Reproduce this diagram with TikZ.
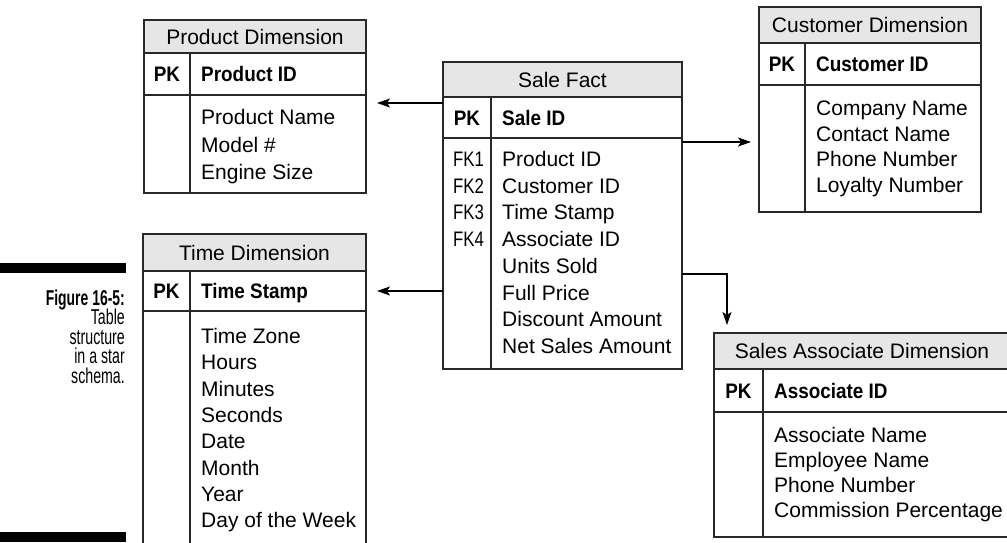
\documentclass[tikz,border=0pt]{standalone}
\usepackage{graphicx}
\usepackage{fontspec}
\setmainfont{Liberation Sans}[BoldFeatures={FakeStretch=0.9}]
\newfontfamily\narrowfont{Liberation Sans}[FakeStretch=0.8]
\usetikzlibrary{arrows.meta}
\definecolor{hdrgray}{RGB}{230,230,230}
\definecolor{inkline}{RGB}{40,40,40}

\tikzset{
  tframe/.style={draw=inkline, line width=1.3pt, inner sep=0pt, outer sep=0pt},
  hdrbox/.style={tframe, fill=hdrgray, font=\fontsize{21}{25}\selectfont},
  rowbox/.style={tframe},
  rule/.style={draw=inkline, line width=1.3pt},
  keytxt/.style={font=\fontsize{21}{25}\selectfont\bfseries, inner sep=0pt, anchor=base},
  fieldtxt/.style={font=\fontsize{21}{25}\selectfont, inner sep=0pt, anchor=base west},
  fktxt/.style={font=\narrowfont\fontsize{21}{25}\selectfont, inner sep=0pt, anchor=base west},
  link/.style={draw=black, line width=1.3pt, -{Stealth[length=13pt,width=9pt,inset=3pt]}},
  captxt/.style={font=\fontsize{21.5}{21}\selectfont, inner sep=0pt, anchor=base east},
  capbar/.style={fill=black},
}
% condensed caption lettering
\newcommand\capline[1]{\scalebox{0.66}[1]{#1}}
\newcommand\capheading[1]{\scalebox{0.72}[1]{\bfseries #1}}

% #1 name, #2 top-left corner, #3 width, #4 title height, #5 key row height,
% #6 body height, #7 key column width, #8 title
\newcommand\erdtable[8]{%
  \node[hdrbox, minimum width=#3pt, minimum height=#4pt, anchor=north west] (#1-h) at #2 {#8};
  \node[rowbox, minimum width=#3pt, minimum height=#5pt, anchor=north west] (#1-k) at (#1-h.south west) {};
  \node[rowbox, minimum width=#3pt, minimum height=#6pt, anchor=north west] (#1-b) at (#1-k.south west) {};
  \draw[rule] ([xshift=#7pt]#1-k.north west) -- ([xshift=#7pt]#1-b.south west);
}
% #1 name, #2 key column width, #3 key field
\newcommand\erdkey[3]{%
  \node[keytxt] (#1-pk) at ([xshift=#2pt/2, yshift=-7.5pt]#1-k.west) {PK};
  \node[keytxt, anchor=base west] (#1-kf) at ([xshift=#2pt+11pt, yshift=-7.5pt]#1-k.west) {#3};
}
% #1 name, #2 key column width, #3 first baseline, #4 line step, #5 fields
\newcommand\erdfields[5]{%
  \foreach \f [count=\i] in {#5}
    \node[fieldtxt] (#1-f\i) at ([xshift=#2pt+11pt, yshift={-#3pt-(\i-1)*#4pt}]#1-b.north west) {\f};
}

\begin{document}
\begin{tikzpicture}[x=1pt, y=-1pt]
\useasboundingbox (0,0) rectangle (1007,542);
\clip (0,0) rectangle (1007,542);

% dimension and fact tables
\erdtable{prod}{(144,20)}{222}{33}{42}{98}{46}{Product Dimension}
\erdkey{prod}{46}{Product ID}
\erdfields{prod}{46}{29.5}{27.5}{Product Name, Model \#, Engine Size}

\erdtable{sale}{(443,62)}{239}{35}{41}{231}{48}{Sale Fact}
\erdkey{sale}{48}{Sale ID}
\erdfields{sale}{48}{28.5}{26.7}{Product ID, Customer ID, Time Stamp, Associate ID, Units Sold, Full Price, Discount Amount, Net Sales Amount}
\foreach \k [count=\i] in {FK1, FK2, FK3, FK4}
  \node[fktxt] (sale-fk\i) at ([xshift=10pt, yshift={-28.5pt-(\i-1)*26.7pt}]sale-b.north west) {\k};

\erdtable{cust}{(759,7)}{222}{36}{42}{127}{46}{Customer Dimension}
\erdkey{cust}{46}{Customer ID}
\erdfields{cust}{46}{30.5}{25.7}{Company Name, Contact Name, Phone Number, Loyalty Number}

\erdtable{time}{(143,234)}{223}{37}{40}{235}{47}{Time Dimension}
\erdkey{time}{47}{Time Stamp}
\erdfields{time}{47}{32.5}{26.3}{Time Zone, Hours, Minutes, Seconds, Date, Month, Year, Day of the Week}

\erdtable{assoc}{(714,333)}{296}{36}{43}{125}{49}{Sales Associate Dimension}
\erdkey{assoc}{49}{Associate ID}
\erdfields{assoc}{49}{30.5}{25}{Associate Name, Employee Name, Phone Number, Commission Percentage}

% foreign key links
\coordinate (toProd)  at ([yshift=-6pt]sale-k.north west);
\coordinate (toTime)  at ([yshift=-153pt]sale-b.north west);
\coordinate (toCust)  at ([yshift=-4pt]sale-b.north east);
\coordinate (toAssoc) at ([yshift=-136pt]sale-b.north east);
\coordinate (assocIn) at ([xshift=13pt]assoc-h.north west);
\draw[link, shorten >=11pt] (toProd) -- (toProd -| prod-b.east);
\draw[link, shorten >=11pt] (toTime) -- (toTime -| time-k.east);
\draw[link, shorten >=8pt] (toCust) -- (toCust -| cust-b.west);
\draw[link, shorten >=8pt] (toAssoc) -| (assocIn);

% figure caption
\fill[capbar] (0,263) rectangle (126,273);
\fill[capbar] (0,532) rectangle (126,542);
\node[captxt] (cap1) at (125,305) {\capheading{Figure 16-5:}};
\node[captxt] (cap2) at (125,324.5) {\capline{Table}};
\node[captxt] (cap3) at (125,344) {\capline{structure}};
\node[captxt] (cap4) at (125,363.5) {\capline{in a star}};
\node[captxt] (cap5) at (125,383) {\capline{schema.}};
\end{tikzpicture}
\end{document}
